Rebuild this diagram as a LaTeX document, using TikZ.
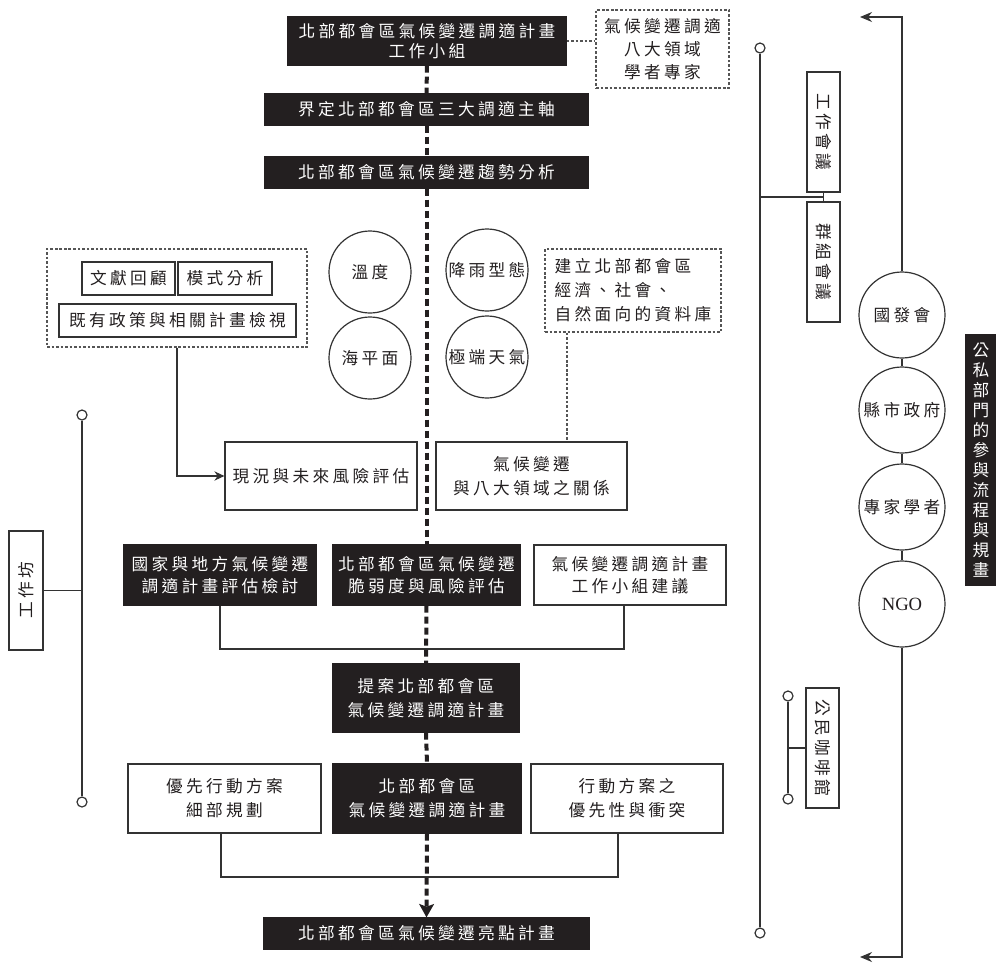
\documentclass[tikz,border=0pt]{standalone}
\usepackage{fontspec}
\setmainfont{Noto Sans CJK TC}[LetterSpace=20]
\newfontfamily\latinserif{Liberation Serif}
\usetikzlibrary{arrows.meta,calc}
\definecolor{ink}{HTML}{231F20}
\definecolor{ln}{HTML}{333333}
\definecolor{dt}{HTML}{555555}
\tikzset{
 atbox/.style n args={4}{at={({(#1+#3)/2},{(#2+#4)/2})}, minimum width={(#3-#1)*0.75pt}, minimum height={(#4-#2)*0.75pt}},
 blk/.style={draw=ink, fill=ink, text=white, inner sep=0pt, align=center, line width=0.9pt},
 wht/.style={draw=ln, fill=white, text=ink, inner sep=0pt, align=center, line width=0.9pt},
 dotbox/.style={draw=dt, line width=1pt, dash pattern=on 2pt off 1.4pt, inner sep=0pt, align=center, text=ink},
 dotln/.style={draw=dt, line width=1pt, dash pattern=on 2pt off 1.4pt},
 conn/.style={draw=ln, line width=0.9pt},
 bigc/.style={circle, draw=ln, line width=0.9pt, fill=white, inner sep=0pt, minimum size=61.5pt, text=ink},
 rc/.style={circle, draw=ln, line width=0.9pt, fill=white, inner sep=0pt, minimum size=64.5pt, text=ink},
 endc/.style={circle, draw=ln, line width=0.9pt, fill=white, inner sep=0pt, minimum size=7.5pt},
 spine/.style={draw=ink, line width=3pt, dash pattern=on 5.25pt off 3pt},
 tight/.style={font=\fontsize{12.5pt}{16.5pt}\selectfont},
}
\begin{document}
\begin{tikzpicture}[x=0.75pt,y=-0.75pt,font=\fontsize{12.5pt}{18pt}\selectfont]
\fill[white] (0,0) rectangle (996,964);
\useasboundingbox (0,0) rectangle (996,964);

% main column
\node[blk, font=\fontsize{12.5pt}{15.5pt}\selectfont, atbox={288}{17}{566}{65}] (N1) {北部都會區氣候變遷調適計畫\\工作小組};
\node[dotbox, font=\fontsize{12.5pt}{17pt}\selectfont, atbox={596}{10}{729}{88}] (N1x) {氣候變遷調適\\八大領域\\學者專家};
\draw[dotln] (N1.east) -- (N1.east -| N1x.west);
\node[blk, atbox={265}{94}{588}{125}] (N2) {界定北部都會區三大調適主軸};
\node[blk, atbox={265}{157}{588}{188}] (N3) {北部都會區氣候變遷趨勢分析};

\node[bigc] (C1) at (370,272) {溫度};
\node[bigc] (C2) at (370,358) {海平面};
\node[bigc] (C3) at (487,270) {降雨型態};
\node[bigc] (C4) at (487,357) {極端天氣};

\node[dotbox, atbox={47}{249}{307}{347}] (LG) {};
\node[wht, atbox={82}{262}{175}{295}] (L1) {文獻回顧};
\node[wht, atbox={178}{262}{272}{295}] (L2) {模式分析};
\node[wht, atbox={59}{304}{296}{337}] (L3) {既有政策與相關計畫檢視};

\node[wht, atbox={225}{442}{417}{510}] (N4) {現況與未來風險評估};
\node[wht, atbox={436}{442}{627}{510}] (N5) {氣候變遷\\與八大領域之關係};
\draw[conn, -{Stealth[length=7.5pt,width=7pt]}] (LG.south) |- (N4.west);

\node[dotbox, align=left, atbox={545}{249}{721}{332}] (N6) {建立北部都會區\\經濟、社會、\\自然面向的資料庫};
\coordinate (x567) at (567,0);
\draw[dotln] (N6.south -| x567) -- (N5.north -| x567);

\node[blk, tight, atbox={124}{545}{316}{605}] (A) {國家與地方氣候變遷\\調適計畫評估檢討};
\node[blk, tight, atbox={333}{545}{520}{605}] (B) {北部都會區氣候變遷\\脆弱度與風險評估};
\node[wht, tight, atbox={534}{545}{726}{605}] (C) {氣候變遷調適計畫\\工作小組建議};
\coordinate (y649) at (0,649);
\draw[conn] (A.south) -- (A.south |- y649) -| ([xshift=-4.5pt]C.south);

\node[blk, atbox={333}{664}{519}{732}] (P) {提案北部都會區\\氣候變遷調適計畫};

\node[wht, atbox={128}{764}{321}{833}] (Ap) {優先行動方案\\細部規劃};
\node[blk, atbox={333}{764}{521}{833}] (Bp) {北部都會區\\氣候變遷調適計畫};
\node[wht, atbox={531}{764}{723}{833}] (Cp) {行動方案之\\優先性與衝突};
\coordinate (y877) at (0,877);
\draw[conn] ([xshift=-2.6pt]Ap.south) -- ([xshift=-2.6pt]Ap.south |- y877) -| ([xshift=-6.75pt]Cp.south);

\node[blk, atbox={264}{918}{589}{949}] (F) {北部都會區氣候變遷亮點計畫};

% spine
\draw[spine] (N1.south) -- (N2.north);
\draw[spine] (N2.south) -- (N3.north);
\draw[spine] (N3.south) -- (B.north);
\draw[spine] (B.south) -- (P.north);
\draw[spine] (P.south) -- (Bp.north);
\draw[spine, -{Stealth[length=10pt,width=11pt,inset=2pt]}] (Bp.south) -- (F.north);

% left workshop bracket
\node[endc] (w1) at (82,415) {};
\node[endc] (w2) at (82,802) {};
\draw[conn] (w1.south) -- (w2.north);
\node[wht, atbox={9}{531}{43}{650}, label={[rotate=90,text=ink]center:工作坊}] (W) {};
\draw[conn] (W.east) -- (W.east -| w1);

% right meeting bracket
\node[endc] (p1) at (760,48) {};
\node[endc] (p2) at (760,933) {};
\draw[conn] (p1.south) -- (p2.north);
\node[wht, atbox={807}{72}{840}{192}, label={[rotate=-90,text=ink]center:工作會議}] (M1) {};
\node[wht, atbox={807}{202}{840}{322}, label={[rotate=-90,text=ink]center:群組會議}] (M2) {};
\draw[conn] (M1.south) -- (M2.north);
\coordinate (J) at ($(M1.south)!0.5!(M2.north)$);
\draw[conn] (J) -- (J -| p1);

% citizen cafe
\node[endc] (k1) at (788,696) {};
\node[endc] (k2) at (788,799) {};
\draw[conn] (k1.south) -- (k2.north);
\node[wht, atbox={806}{688}{839}{808}, label={[rotate=-90,text=ink]center:公民咖啡館}] (K) {};
\draw[conn] (K.west) -- (K.west -| k1);

% stakeholders
\node[rc] (G1) at (902,315) {國發會};
\node[rc] (G2) at (902,410) {縣市政府};
\node[rc] (G3) at (902,507) {專家學者};
\node[rc, font=\latinserif\fontsize{14pt}{16pt}\selectfont] (G4) at (902,604) {NGO};
\draw[conn] (G1.south) -- (G2.north);
\draw[conn] (G2.south) -- (G3.north);
\draw[conn] (G3.south) -- (G4.north);
\coordinate (tT) at (860,17);
\coordinate (tB) at (860,957);
\draw[conn, -{Stealth[length=9pt,width=7.5pt]}] (G1.north) |- (tT);
\draw[conn, -{Stealth[length=9pt,width=7.5pt]}] (G4.south) |- (tB);

\node[blk, font=\fontsize{12.5pt}{15pt}\selectfont, atbox={966}{335}{996}{585}] (T) {公\\私\\部\\門\\的\\參\\與\\流\\程\\與\\規\\畫};
\end{tikzpicture}
\end{document}
